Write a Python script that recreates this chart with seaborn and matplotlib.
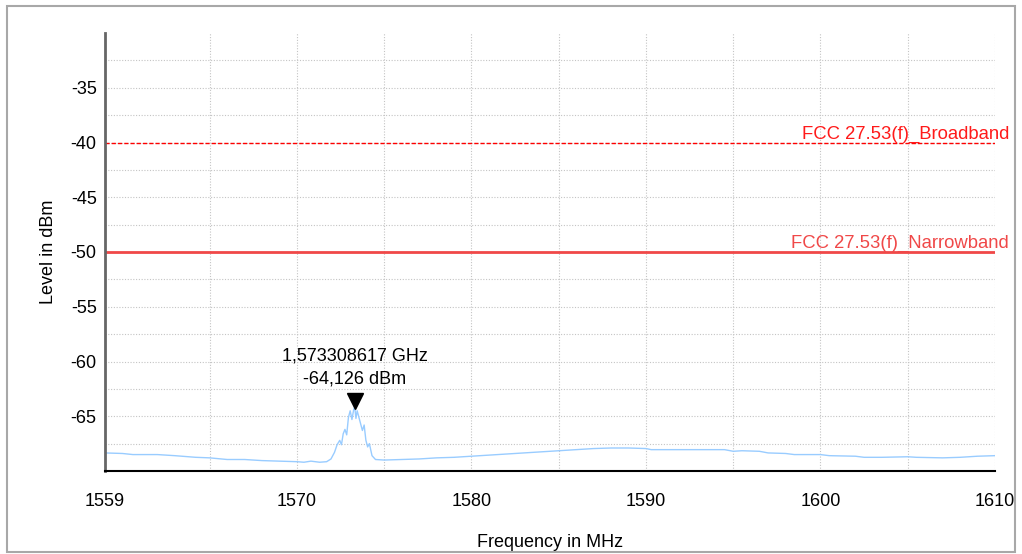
import matplotlib
matplotlib.use('Agg')
import matplotlib.pyplot as plt
import matplotlib.transforms as mtransforms
from matplotlib.patches import Rectangle
import seaborn as sns
import pandas as pd

# spectrum trace
freq_mhz = [1559.0, 1560.0, 1560.6, 1562.0, 1563.0, 1564.2, 1565.0, 1566.0, 1567.0, 1568.0,
            1569.0, 1570.0, 1570.4, 1570.8, 1571.3, 1571.7, 1571.95, 1572.15, 1572.3, 1572.45,
            1572.55, 1572.65, 1572.75, 1572.85, 1572.95, 1573.05, 1573.15, 1573.25, 1573.31, 1573.38,
            1573.45, 1573.55, 1573.65, 1573.75, 1573.85, 1573.95, 1574.05, 1574.15, 1574.3, 1574.5,
            1575.0, 1576.0, 1577.0, 1578.0, 1579.0, 1580.0, 1581.0, 1582.0, 1583.0, 1584.0,
            1585.0, 1586.0, 1587.0, 1588.0, 1589.0, 1590.0, 1590.3, 1592.0, 1594.5, 1595.0,
            1595.5, 1596.5, 1597.0, 1598.0, 1598.5, 1600.0, 1600.5, 1602.0, 1602.5, 1603.5,
            1605.0, 1605.5, 1607.0, 1608.0, 1609.0, 1610.0]
level_dbm = [-68.35, -68.4, -68.5, -68.5, -68.6, -68.75, -68.8, -68.95, -68.95, -69.05,
             -69.1, -69.15, -69.2, -69.1, -69.2, -69.15, -68.9, -68.3, -67.6, -67.2,
             -67.6, -66.6, -66.2, -66.7, -65.1, -64.5, -65.3, -64.4, -64.13, -65.2,
             -64.5, -65.1, -65.7, -66.3, -65.8, -67.2, -67.8, -67.5, -68.6, -68.95,
             -69.0, -68.95, -68.9, -68.8, -68.75, -68.65, -68.55, -68.45, -68.35, -68.25,
             -68.15, -68.05, -67.95, -67.9, -67.9, -67.95, -68.05, -68.05, -68.05, -68.2,
             -68.15, -68.2, -68.35, -68.4, -68.5, -68.5, -68.6, -68.65, -68.75, -68.75,
             -68.7, -68.75, -68.8, -68.75, -68.65, -68.6]

peak_ghz = 1.573308617
peak_level = -64.126

broadband_limit = -40
narrowband_limit = -50
broadband_label = 'FCC 27.53(f)_Broadband'
narrowband_label = 'FCC 27.53(f)_Narrowband'

x_major = [1559, 1570, 1580, 1590, 1600, 1610]
x_minor = [1565, 1575, 1585, 1595, 1605]
y_major = [-65, -60, -55, -50, -45, -40, -35]
y_minor = [-67.5, -62.5, -57.5, -52.5, -47.5, -42.5, -37.5, -32.5]

df = pd.DataFrame({'freq': freq_mhz, 'level': level_dbm})

sns.set_style('white')
plt.rcParams['font.family'] = ['Liberation Sans', 'DejaVu Sans']
plt.rcParams['axes.unicode_minus'] = False
plt.rcParams['text.color'] = 'black'
plt.rcParams['axes.labelcolor'] = 'black'

fig = plt.figure(figsize=(10.22, 5.54), dpi=100)
ax = fig.add_axes([105 / 1022, 1 - 471 / 554, 890 / 1022, 438 / 554])

# light gray frame around the whole picture
fig.patches.append(Rectangle((7 / 1022, 2 / 554), 1008 / 1022, 546 / 554, transform=fig.transFigure,
                             fill=False, edgecolor='#a8a8a8', linewidth=1.5))

sns.lineplot(data=df, x='freq', y='level', ax=ax, color='#99ccff', linewidth=1)

ax.axhline(broadband_limit, color='#ff0000', linestyle=(0, (3, 1.5)), linewidth=1)
ax.axhline(narrowband_limit, color='#f04848', linewidth=2)
ax.text(1.016, broadband_limit, broadband_label, transform=ax.get_yaxis_transform(),
        ha='right', va='bottom', color='#ff1a1a', fontsize=13.3)
ax.text(1.016, narrowband_limit, narrowband_label, transform=ax.get_yaxis_transform(),
        ha='right', va='bottom', color='#f04848', fontsize=13.3)

# peak marker and readout
peak_mhz = peak_ghz * 1000
ax.plot([peak_mhz], [peak_level], marker='v', color='black', markersize=11, linestyle='none',
        transform=ax.transData + mtransforms.ScaledTranslation(0, 4 / 72, fig.dpi_scale_trans))
readout = f'{peak_ghz:.9f} GHz\n{peak_level:.3f} dBm'.replace('.', ',')
ax.annotate(readout, xy=(peak_mhz, peak_level), xytext=(0, 14), textcoords='offset points',
            ha='center', va='bottom', multialignment='center', fontsize=13, linespacing=1.45)

ax.set_xlim(1559, 1610)
ax.set_ylim(-70, -30)
ax.set_xticks(x_major)
ax.set_xticks(x_minor, minor=True)
ax.set_yticks(y_major)
ax.set_yticks(y_minor, minor=True)
ax.grid(True, which='both', color='#c4c4c4', linestyle=(0, (1, 1.5)), linewidth=0.8)
ax.tick_params(axis='both', which='both', direction='inout', length=8, width=1.2, colors='black',
               labelsize=13)
ax.tick_params(axis='x', which='both', pad=12)
ax.tick_params(axis='y', which='both', pad=2)

for side in ['top', 'right']:
    ax.spines[side].set_visible(False)
ax.spines['left'].set_color('#666666')
ax.spines['left'].set_linewidth(2)
ax.spines['bottom'].set_color('black')
ax.spines['bottom'].set_linewidth(1.5)

ax.set_xlabel('Frequency in MHz', fontsize=13, labelpad=17)
ax.set_ylabel('Level in dBm', fontsize=13, labelpad=10)

fig.savefig('out.png', dpi=100)
